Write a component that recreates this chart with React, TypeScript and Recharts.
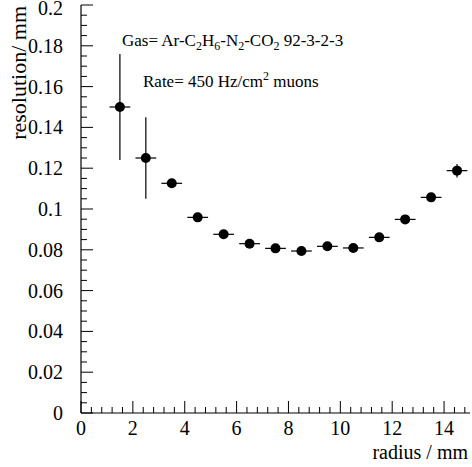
import React from 'react';
import { ScatterChart, Scatter, XAxis, YAxis, ErrorBar } from 'recharts';

// radius bins (mm) and measured resolution (mm)
const radius = [1.5, 2.5, 3.5, 4.5, 5.5, 6.5, 7.5, 8.5, 9.5, 10.5, 11.5, 12.5, 13.5, 14.5];
const resolution = [0.15, 0.125, 0.1126, 0.0959, 0.0876, 0.083, 0.0807, 0.0794, 0.0817, 0.0809, 0.0861, 0.0949, 0.1057, 0.1188];
const resolutionErr = [0.026, 0.02, 0.001, 0.001, 0.001, 0.001, 0.001, 0.001, 0.001, 0.001, 0.001, 0.001, 0.001, 0.0033];
const radiusErr = [0.4, 0.4, 0.4, 0.4, 0.4, 0.4, 0.4, 0.4, 0.4, 0.4, 0.4, 0.4, 0.4, 0.4];

const xMajor = [0, 2, 4, 6, 8, 10, 12, 14];
const yMajor = [0, 0.02, 0.04, 0.06, 0.08, 0.1, 0.12, 0.14, 0.16, 0.18, 0.2];

const xTicks = Array.from({ length: 38 }, (_, i) => +(i * 0.4).toFixed(2));
const yTicks = Array.from({ length: 41 }, (_, i) => +(i * 0.005).toFixed(3));

const data = radius.map((r, i) => ({
  r,
  res: resolution[i],
  ex: radiusErr[i],
  ey: resolutionErr[i],
}));

const FONT = "'Liberation Serif', 'Times New Roman', 'DejaVu Serif', serif";
const txt = { fontFamily: FONT, fill: '#000' };
const MAJOR = 12;
const MINOR = 6;

const isMajor = (v: number, list: number[]) => list.some((m) => Math.abs(m - v) < 1e-6);

const BottomTick = (props: any) => {
  const { x, y, payload } = props;
  const major = isMajor(payload.value, xMajor);
  return (
    <g>
      <line x1={x} x2={x} y1={y} y2={y - (major ? MAJOR : MINOR)} stroke="#000" strokeWidth={1} />
      {major && (
        <text x={x} y={y + 22} textAnchor="middle" style={{ ...txt, fontSize: 20 }}>
          {payload.value}
        </text>
      )}
    </g>
  );
};

const TopTick = (props: any) => {
  const { x, y, payload } = props;
  const major = isMajor(payload.value, xMajor);
  return <line x1={x} x2={x} y1={y} y2={y + (major ? MAJOR : MINOR)} stroke="#000" strokeWidth={1} />;
};

const LeftTick = (props: any) => {
  const { x, y, payload } = props;
  const major = isMajor(payload.value, yMajor);
  // keep the top label inside the svg
  const ty = Math.max(y + 7, 15);
  return (
    <g>
      <line x1={x} x2={x + (major ? MAJOR : MINOR)} y1={y} y2={y} stroke="#000" strokeWidth={1} />
      {major && (
        <text x={x - 18} y={ty} textAnchor="end" style={{ ...txt, fontSize: 20 }}>
          {String(+payload.value.toFixed(3))}
        </text>
      )}
    </g>
  );
};

const RightTick = (props: any) => {
  const { x, y, payload } = props;
  const major = isMajor(payload.value, yMajor);
  return <line x1={x} x2={x - (major ? MAJOR : MINOR)} y1={y} y2={y} stroke="#000" strokeWidth={1} />;
};

const Dot = (props: any) => <circle cx={props.cx} cy={props.cy} r={5} fill="#000" />;

const axisLine = { stroke: '#000', strokeWidth: 1.2 };

export default function App() {
  return (
    <div style={{ position: 'absolute', left: 0, top: 0, background: '#fff' }}>
      <ScatterChart width={472} height={467} margin={{ top: 5, right: 2, bottom: 0, left: 0 }}>
        <XAxis
          type="number"
          dataKey="r"
          domain={[0, 15]}
          ticks={xTicks}
          interval={0}
          height={54}
          tickSize={0}
          tickMargin={0}
          tickLine={false}
          axisLine={axisLine}
          tick={<BottomTick />}
          allowDataOverflow
        />
        <XAxis
          xAxisId="top"
          type="number"
          orientation="top"
          domain={[0, 15]}
          ticks={xTicks}
          interval={0}
          height={0}
          tickSize={0}
          tickMargin={0}
          tickLine={false}
          axisLine={axisLine}
          tick={<TopTick />}
          allowDataOverflow
        />
        <YAxis
          type="number"
          dataKey="res"
          domain={[0, 0.2]}
          ticks={yTicks}
          interval={0}
          width={81}
          tickSize={0}
          tickMargin={0}
          tickLine={false}
          axisLine={axisLine}
          tick={<LeftTick />}
          allowDataOverflow
        />
        <YAxis
          yAxisId="right"
          type="number"
          orientation="right"
          domain={[0, 0.2]}
          ticks={yTicks}
          interval={0}
          width={0}
          tickSize={0}
          tickMargin={0}
          tickLine={false}
          axisLine={axisLine}
          tick={<RightTick />}
          allowDataOverflow
        />
        <Scatter data={data} shape={<Dot />} isAnimationActive={false}>
          <ErrorBar dataKey="ex" direction="x" width={0} stroke="#000" strokeWidth={1.2} isAnimationActive={false} />
          <ErrorBar dataKey="ey" direction="y" width={0} stroke="#000" strokeWidth={1.2} isAnimationActive={false} />
        </Scatter>

        <text x={122} y={46} style={{ ...txt, fontSize: 17 }}>
          Gas= Ar-C
          <tspan dy={4} style={{ fontSize: 12 }}>2</tspan>
          <tspan dy={-4}>H</tspan>
          <tspan dy={4} style={{ fontSize: 12 }}>6</tspan>
          <tspan dy={-4}>-N</tspan>
          <tspan dy={4} style={{ fontSize: 12 }}>2</tspan>
          <tspan dy={-4}>-CO</tspan>
          <tspan dy={4} style={{ fontSize: 12 }}>2</tspan>
          <tspan dy={-4}> 92-3-2-3</tspan>
        </text>
        <text x={143} y={87} style={{ ...txt, fontSize: 17 }}>
          Rate= 450 Hz/cm
          <tspan dy={-7} style={{ fontSize: 12 }}>2</tspan>
          <tspan dy={7}> muons</tspan>
        </text>
        <text x={468} y={459} textAnchor="end" style={{ ...txt, fontSize: 20 }}>
          radius / mm
        </text>
        <text
          x={0}
          y={0}
          transform="translate(26, 6) rotate(-90)"
          textAnchor="end"
          style={{ ...txt, fontSize: 22 }}
        >
          resolution/ mm
        </text>
      </ScatterChart>
    </div>
  );
}
